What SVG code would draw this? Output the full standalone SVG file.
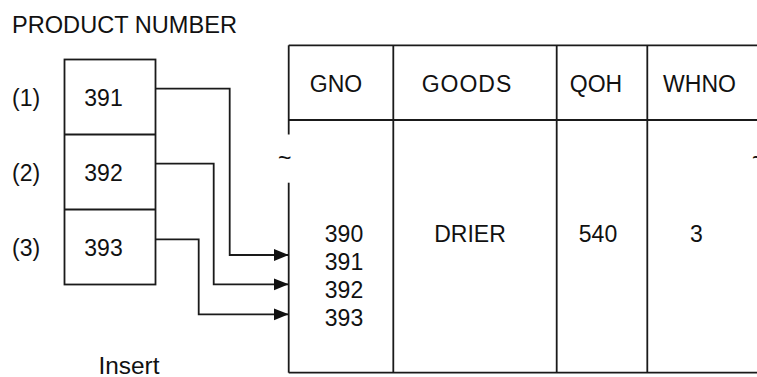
<svg xmlns="http://www.w3.org/2000/svg" width="757" height="377" viewBox="0 0 757 377">
<style>
text{font-family:"Liberation Sans",Arial,sans-serif;font-size:23px;fill:#111}
.c{text-anchor:middle}
.ln{stroke:#1a1a1a;stroke-width:1.8;fill:none}
</style>
<defs>
<marker id="ah" markerUnits="userSpaceOnUse" markerWidth="16" markerHeight="13" refX="15" refY="6" orient="auto" viewBox="0 0 16 13">
<path d="M0,0 L15,6 L0,12 Z" fill="#111"/>
</marker>
</defs>
<rect width="757" height="377" fill="#fff"/>
<text id="title" x="12" y="33" textLength="225" lengthAdjust="spacingAndGlyphs">PRODUCT NUMBER</text>
<g id="product-box">
<rect class="ln" x="64.5" y="59.5" width="91" height="225"/>
<line class="ln" x1="64.5" y1="134.5" x2="155.5" y2="134.5"/>
<line class="ln" x1="64.5" y1="209.5" x2="155.5" y2="209.5"/>
</g>
<g id="row1"><text x="12" y="105.5">(1)</text><text class="c" x="103.5" y="105.5">391</text></g>
<g id="row2"><text x="12" y="180.5">(2)</text><text class="c" x="103.5" y="180.5">392</text></g>
<g id="row3"><text x="12" y="255.5">(3)</text><text class="c" x="103.5" y="255.5">393</text></g>
<text id="insert" x="98.5" y="374" textLength="61" lengthAdjust="spacingAndGlyphs">Insert</text>
<g id="table">
<line class="ln" x1="288.7" y1="45.3" x2="757" y2="45.3"/>
<line class="ln" x1="288.7" y1="120" x2="757" y2="120"/>
<line class="ln" x1="288.7" y1="372.7" x2="757" y2="372.7"/>
<line class="ln" x1="288.7" y1="45.3" x2="288.7" y2="134.5"/>
<line class="ln" x1="288.7" y1="182.7" x2="288.7" y2="372.7"/>
<line class="ln" x1="393.3" y1="45.3" x2="393.3" y2="372.7"/>
<line class="ln" x1="556.7" y1="45.3" x2="556.7" y2="372.7"/>
<line class="ln" x1="647.3" y1="45.3" x2="647.3" y2="372.7"/>
<text x="278" y="166">~</text>
<text x="752" y="166">~</text>
<text class="c" x="336" y="92">GNO</text>
<text class="c" x="467" y="92" letter-spacing="1">GOODS</text>
<text class="c" x="596" y="92">QOH</text>
<text class="c" x="699.5" y="92">WHNO</text>
<text class="c" x="344" y="242">390</text>
<text class="c" x="344" y="269.5">391</text>
<text class="c" x="344" y="297.7">392</text>
<text class="c" x="344" y="326">393</text>
<text class="c" x="470" y="242">DRIER</text>
<text class="c" x="598" y="242">540</text>
<text class="c" x="696.5" y="242">3</text>
</g>
<g id="connectors">
<path class="ln" d="M155.5,88.7 H229.7 V255 H288.7" marker-end="url(#ah)"/>
<path class="ln" d="M155.5,163.7 H213.7 V284.3 H288.7" marker-end="url(#ah)"/>
<path class="ln" d="M155.5,239.3 H198.7 V314.3 H288.7" marker-end="url(#ah)"/>
</g>
</svg>
